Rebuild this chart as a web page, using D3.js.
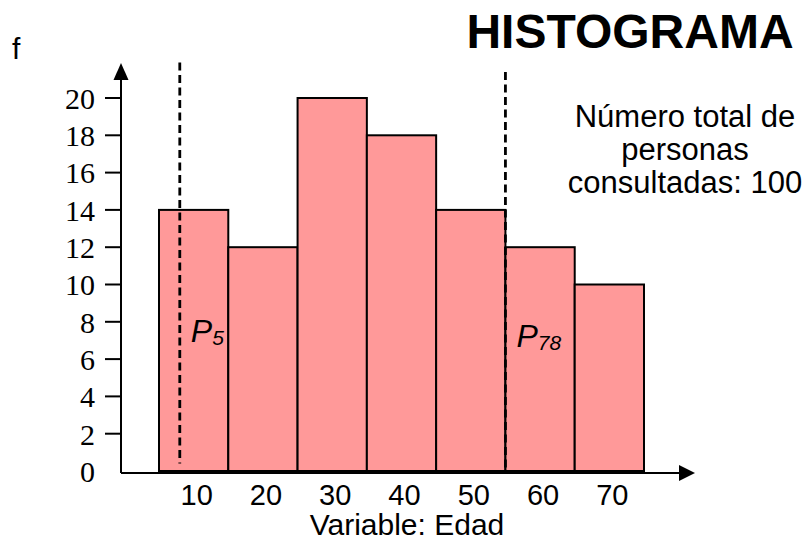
<!DOCTYPE html>
<html>
<head>
<meta charset="utf-8">
<script src="https://cdn.jsdelivr.net/npm/d3@7"></script>
<style>
  html, body { margin: 0; padding: 0; background: #fff; }
  svg { display: block; }
</style>
</head>
<body>
<div id="histogram"></div>
<script>
const classMarks = [10, 20, 30, 40, 50, 60, 70];
const frequencies = [14, 12, 20, 18, 14, 12, 10];
const yTicks = [0, 2, 4, 6, 8, 10, 12, 14, 16, 18, 20];
const percentileNames = ["5", "78"];
const percentileValues = [8, 55];
const noteLines = ["Número total de", "personas", "consultadas: 100"];

(function() {
  const width = 808;
  const height = 542;
  const classWidth = 10;
  const barColor = "#ff9999";
  const ink = "#000";
  const SANS = "'Liberation Sans', Arial, Helvetica, sans-serif";
  const SERIF = "'Liberation Serif', 'Times New Roman', serif";

  const svg = d3
    .select("#histogram")
    .append("svg")
    .attr("width", width)
    .attr("height", height);

  svg.append("rect").attr("width", width).attr("height", height).attr("fill", "#fff");

  const x = d3.scaleLinear().domain([5, 75]).range([159, 644]);
  const y = d3.scaleLinear().domain([0, 20]).range([471, 98]);

  const axisX = 121;
  const axisY = 473;

  const bins = classMarks.map((c, i) => ({
    x0: c - classWidth / 2,
    x1: c + classWidth / 2,
    mark: c,
    value: frequencies[i]
  }));

  // bars
  svg
    .append("g")
    .selectAll("rect")
    .data(bins)
    .enter()
    .append("rect")
    .attr("x", d => x(d.x0))
    .attr("y", d => y(d.value))
    .attr("width", d => x(d.x1) - x(d.x0))
    .attr("height", d => y(0) - y(d.value))
    .attr("fill", barColor)
    .attr("stroke", ink)
    .attr("stroke-width", 2);

  // percentile lines (dashed)
  const percentiles = percentileNames.map((n, i) => ({ name: n, value: percentileValues[i] }));
  const tops = [21.9, 21.4];
  const bottoms = [0.4, 0];
  svg
    .append("g")
    .selectAll("line")
    .data(percentiles)
    .enter()
    .append("line")
    .attr("x1", d => x(d.value))
    .attr("x2", d => x(d.value))
    .attr("y1", (d, i) => y(tops[i]))
    .attr("y2", (d, i) => y(bottoms[i]))
    .attr("stroke", ink)
    .attr("stroke-width", 2.8)
    .attr("stroke-dasharray", "8,4.5");

  const pLabels = svg
    .append("g")
    .selectAll("text")
    .data(percentiles)
    .enter()
    .append("text")
    .attr("x", d => x(d.value) + 11)
    .attr("y", (d, i) => (i === 0 ? 342 : 347))
    .style("font-family", SANS)
    .style("font-style", "italic")
    .style("font-size", "32px")
    .attr("fill", ink);
  pLabels.append("tspan").text("P");
  pLabels
    .append("tspan")
    .attr("dy", 3)
    .style("font-size", "21px")
    .text(d => d.name);

  // axes
  const axes = svg.append("g").attr("stroke", ink).attr("stroke-width", 2);
  axes.append("line").attr("x1", axisX).attr("x2", axisX).attr("y1", axisY).attr("y2", 78);
  axes.append("line").attr("x1", axisX).attr("x2", 681).attr("y1", axisY).attr("y2", axisY);
  svg
    .append("path")
    .attr("d", `M${axisX},63 L${axisX - 7.5},80 L${axisX + 7.5},80 Z`)
    .attr("fill", ink);
  svg
    .append("path")
    .attr("d", `M695,${axisY} L679,${axisY - 8} L679,${axisY + 8} Z`)
    .attr("fill", ink);

  // y ticks
  const yTickG = svg
    .append("g")
    .selectAll("g")
    .data(yTicks)
    .enter()
    .append("g")
    .attr("transform", d => `translate(0,${y(d)})`);
  yTickG
    .filter(d => d !== 0)
    .append("line")
    .attr("x1", 105)
    .attr("x2", axisX)
    .attr("stroke", ink)
    .attr("stroke-width", 2);
  yTickG
    .append("text")
    .attr("x", 95)
    .attr("dy", "0.36em")
    .attr("text-anchor", "end")
    .style("font-family", SERIF)
    .style("font-size", "30px")
    .attr("fill", ink)
    .text(d => d);

  // x tick labels
  svg
    .append("g")
    .selectAll("text")
    .data(classMarks)
    .enter()
    .append("text")
    .attr("x", d => x(d) + 3)
    .attr("y", 505)
    .attr("text-anchor", "middle")
    .style("font-family", SANS)
    .style("font-size", "29px")
    .attr("fill", ink)
    .text(d => d);

  svg
    .append("text")
    .attr("x", 407)
    .attr("y", 535)
    .attr("text-anchor", "middle")
    .style("font-family", SANS)
    .style("font-size", "30px")
    .attr("fill", ink)
    .text("Variable: Edad");

  svg
    .append("text")
    .attr("x", 12)
    .attr("y", 59)
    .style("font-family", SANS)
    .style("font-size", "30px")
    .attr("fill", ink)
    .text("f");

  svg
    .append("text")
    .attr("x", 630)
    .attr("y", 48)
    .attr("text-anchor", "middle")
    .style("font-family", SANS)
    .style("font-weight", "bold")
    .style("font-size", "48px")
    .attr("fill", ink)
    .text("HISTOGRAMA");

  svg
    .append("g")
    .selectAll("text")
    .data(noteLines)
    .enter()
    .append("text")
    .attr("x", 685)
    .attr("y", (d, i) => 127 + i * 33)
    .attr("text-anchor", "middle")
    .style("font-family", SANS)
    .style("font-size", "31px")
    .attr("fill", ink)
    .text(d => d);
})();
</script>
</body>
</html>
